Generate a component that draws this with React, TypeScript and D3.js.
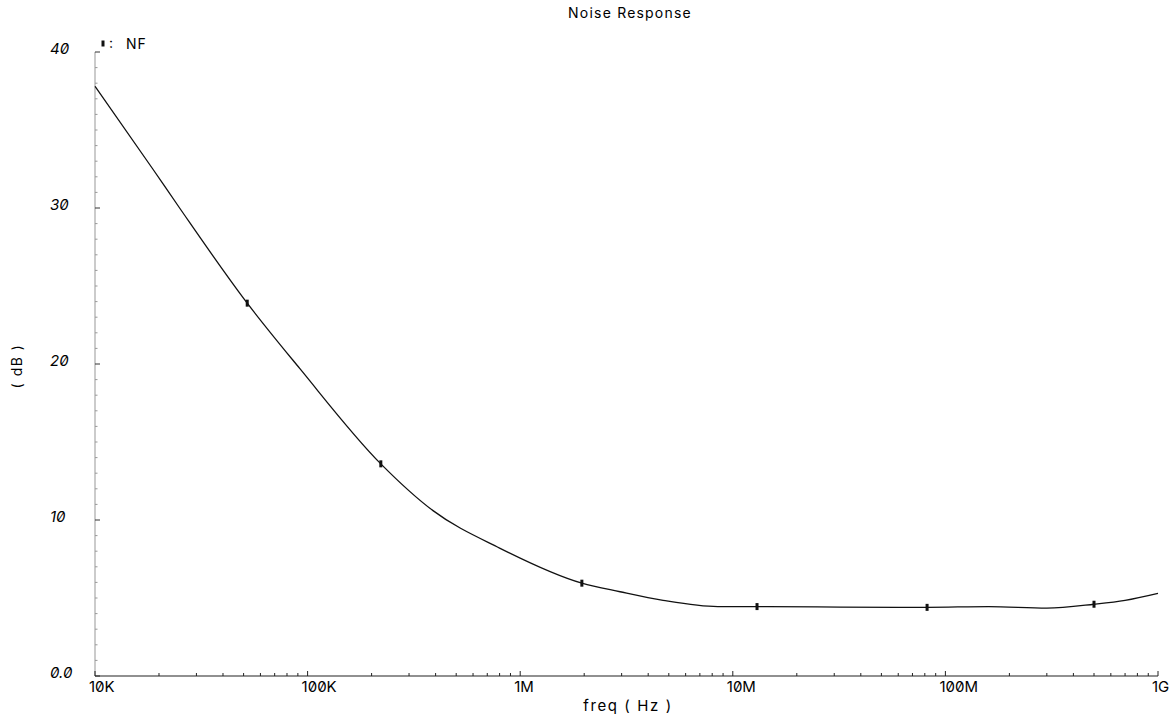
import { useEffect, useRef } from "react";
import * as d3 from "d3";

const width = 1170;
const height = 718;
const margin = { top: 52, right: 12, bottom: 42, left: 95 };

// noise figure curve
const freqs = [1e4, 1.87e4, 2.5e4, 5.2e4, 9.2e4, 2.21e5, 3.89e5, 8.0e5, 1.95e6, 2.95e6, 4.7e6, 8.5e6, 1.3e7, 3.2e7, 8.2e7, 1.6e8, 3.0e8, 5.0e8, 7.0e8, 1e9];
const nfDb = [37.8, 32.5, 30.0, 23.9, 19.7, 13.6, 10.6, 8.2, 5.95, 5.4, 4.85, 4.45, 4.45, 4.42, 4.4, 4.45, 4.35, 4.6, 4.85, 5.3];
// points carrying a marker on the trace
const markerFreqs = [5.2e4, 2.21e5, 1.95e6, 1.3e7, 8.2e7, 5.0e8];
const markerDb = [23.9, 13.6, 5.95, 4.45, 4.4, 4.6];

const xTicks = [1e4, 1e5, 1e6, 1e7, 1e8, 1e9];
const xTickLabels = ["10K", "100K", "1M", "10M", "100M", "1G"];
const yTicks = [0, 10, 20, 30, 40];
const yTickLabels = ["0.0", "10", "20", "30", "40"];

const labelFont = "Inter, 'DejaVu Sans', sans-serif";

function App() {
  const ref = useRef<SVGSVGElement | null>(null);

  useEffect(() => {
    const svg = d3.select(ref.current);
    svg.selectAll("*").remove();

    const x = d3
      .scaleLog()
      .domain([1e4, 1e9])
      .range([margin.left, width - margin.right]);
    const y = d3
      .scaleLinear()
      .domain([0, 40])
      .range([height - margin.bottom, margin.top]);

    const y0 = y(0);

    // title
    svg.append("text")
      .attr("x", 630)
      .attr("y", 18)
      .attr("text-anchor", "middle")
      .attr("font-family", labelFont)
      .attr("font-size", 14)
      .attr("letter-spacing", 1.2)
      .text("Noise Response");

    // y axis (light, with 1 dB minor ticks)
    svg.append("line")
      .attr("x1", margin.left).attr("x2", margin.left)
      .attr("y1", y(40)).attr("y2", y0)
      .attr("stroke", "#a8a8a8").attr("stroke-width", 1.2);

    const minorY = d3.range(0, 41, 1);
    svg.append("g").selectAll("line")
      .data(minorY)
      .enter()
      .append("line")
      .attr("x1", margin.left)
      .attr("x2", (d) => margin.left + (d % 10 === 0 ? 5 : 2.5))
      .attr("y1", (d) => y(d))
      .attr("y2", (d) => y(d))
      .attr("stroke", (d) => (d % 10 === 0 ? "#333" : "#999"))
      .attr("stroke-width", 1);

    svg.append("g").selectAll("text")
      .data(yTicks)
      .enter()
      .append("text")
      .attr("x", 50)
      .attr("y", (d) => y(d) - 3)
      .attr("dy", "0.35em")
      .attr("font-family", labelFont)
      .attr("font-size", 15)
      .attr("font-style", "italic")
      .style("font-feature-settings", "'zero' 1")
      .text((d, i) => yTickLabels[i]);

    svg.append("text")
      .attr("transform", `translate(22,366) rotate(-90)`)
      .attr("text-anchor", "middle")
      .attr("font-family", labelFont)
      .attr("font-size", 14)
      .attr("letter-spacing", 1.5)
      .text("( dB )");

    // x axis
    svg.append("line")
      .attr("x1", margin.left).attr("x2", width - margin.right)
      .attr("y1", y0).attr("y2", y0)
      .attr("stroke", "#222").attr("stroke-width", 1.2);

    const minorX: number[] = [];
    for (let e = 4; e < 9; e++) {
      for (let m = 2; m < 10; m++) minorX.push(m * Math.pow(10, e));
    }
    svg.append("g").selectAll("line")
      .data(minorX)
      .enter()
      .append("line")
      .attr("x1", (d) => x(d)).attr("x2", (d) => x(d))
      .attr("y1", y0).attr("y2", y0 - 3)
      .attr("stroke", "#222").attr("stroke-width", 1);

    svg.append("g").selectAll("line")
      .data(xTicks)
      .enter()
      .append("line")
      .attr("x1", (d) => x(d)).attr("x2", (d) => x(d))
      .attr("y1", y0).attr("y2", y0 - 5)
      .attr("stroke", "#222").attr("stroke-width", 1);

    svg.append("g").selectAll("text")
      .data(xTicks)
      .enter()
      .append("text")
      .attr("x", (d) => x(d) - 6)
      .attr("y", y0 + 16)
      .attr("font-family", labelFont)
      .attr("font-size", 15)
      .style("font-feature-settings", "'zero' 1")
      .text((d, i) => xTickLabels[i]);

    svg.append("text")
      .attr("x", 628)
      .attr("y", 711)
      .attr("text-anchor", "middle")
      .attr("font-family", labelFont)
      .attr("font-size", 15)
      .attr("letter-spacing", 1.6)
      .text("freq ( Hz )");

    // trace
    const line = d3
      .line<number>()
      .x((d, i) => x(freqs[i]))
      .y((d) => y(d))
      .curve(d3.curveMonotoneX);

    svg.append("path")
      .datum(nfDb)
      .attr("fill", "none")
      .attr("stroke", "#111")
      .attr("stroke-width", 1.3)
      .attr("d", line);

    svg.append("g").selectAll("rect")
      .data(markerDb)
      .enter()
      .append("rect")
      .attr("x", (d, i) => x(markerFreqs[i]) - 1.5)
      .attr("y", (d) => y(d) - 3.5)
      .attr("width", 3)
      .attr("height", 7)
      .attr("fill", "#111");

    // legend
    svg.append("rect")
      .attr("x", 101.5).attr("y", 40.5)
      .attr("width", 3).attr("height", 6)
      .attr("fill", "#111");
    svg.append("text")
      .attr("x", 109)
      .attr("y", 48)
      .attr("font-family", labelFont)
      .attr("font-size", 14)
      .text(":");
    svg.append("text")
      .attr("x", 126)
      .attr("y", 49)
      .attr("font-family", labelFont)
      .attr("font-size", 14)
      .attr("letter-spacing", 1)
      .text("NF");
  }, []);

  return (
    <svg
      ref={ref}
      width={width}
      height={height}
      style={{ position: "absolute", left: 0, top: 0, background: "#fff" }}
    />
  );
}

export default App;
